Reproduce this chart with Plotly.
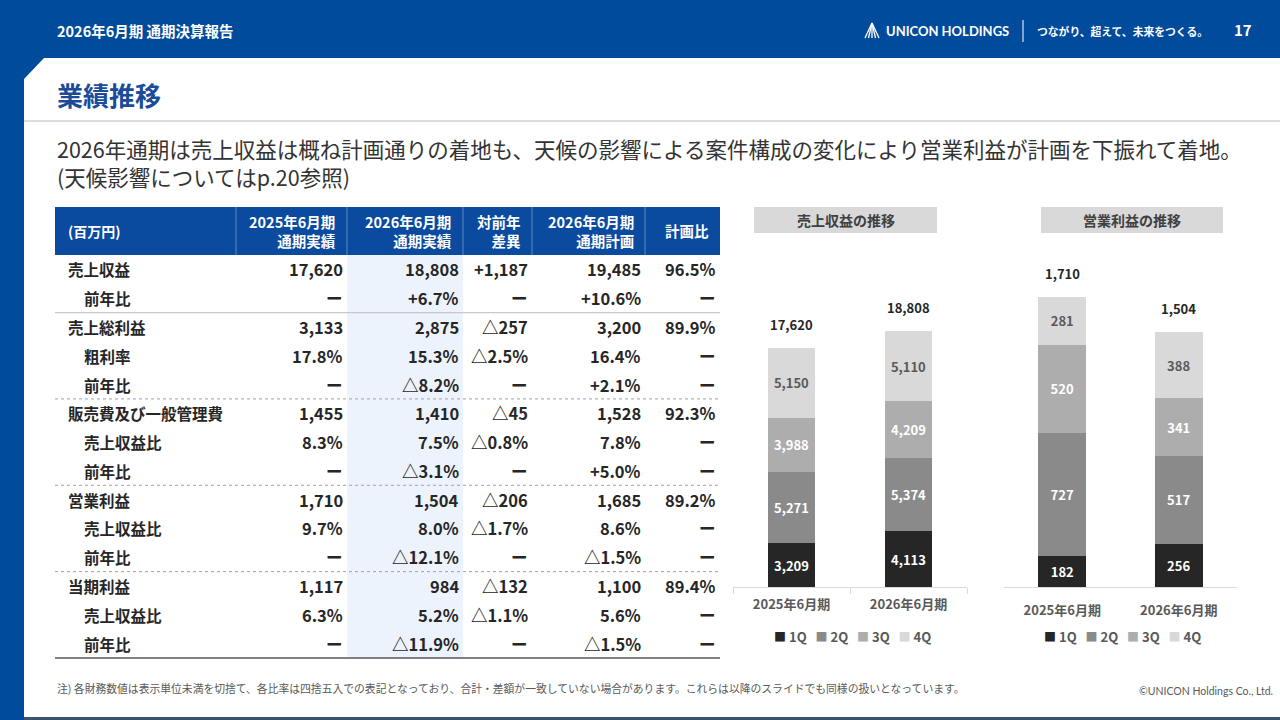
import plotly.graph_objects as go

# ── data ──────────────────────────────────────────────────────────────────────
periods = ["2025年6月期", "2026年6月期"]
quarters = ["1Q", "2Q", "3Q", "4Q"]

sales_1q = [3209, 4113]
sales_2q = [5271, 5374]
sales_3q = [3988, 4209]
sales_4q = [5150, 5110]
sales_total = [17620, 18808]

op_1q = [182, 256]
op_2q = [727, 517]
op_3q = [520, 341]
op_4q = [281, 388]
op_total = [1710, 1504]

table_header = ["(百万円)", "2025年6月期<br>通期実績", "2026年6月期<br>通期実績",
                "対前年<br>差異", "2026年6月期<br>通期計画", "計画比"]

main_items = ["売上収益", "売上総利益", "販売費及び一般管理費", "営業利益", "当期利益"]
sub_items = [["前年比"], ["粗利率", "前年比"], ["売上収益比", "前年比"],
             ["売上収益比", "前年比"], ["売上収益比", "前年比"]]

fy25_actual = ["17,620", "ー", "3,133", "17.8%", "ー", "1,455", "8.3%", "ー",
               "1,710", "9.7%", "ー", "1,117", "6.3%", "ー"]
fy26_actual = ["18,808", "+6.7%", "2,875", "15.3%", "△8.2%", "1,410", "7.5%", "△3.1%",
               "1,504", "8.0%", "△12.1%", "984", "5.2%", "△11.9%"]
yoy_diff = ["+1,187", "ー", "△257", "△2.5%", "ー", "△45", "△0.8%", "ー",
            "△206", "△1.7%", "ー", "△132", "△1.1%", "ー"]
fy26_plan = ["19,485", "+10.6%", "3,200", "16.4%", "+2.1%", "1,528", "7.8%", "+5.0%",
             "1,685", "8.6%", "△1.5%", "1,100", "5.6%", "△1.5%"]
plan_ratio = ["96.5%", "ー", "89.9%", "ー", "ー", "92.3%", "ー", "ー",
              "89.2%", "ー", "ー", "89.4%", "ー", "ー"]

headline = ("2026年通期は売上収益は概ね計画通りの着地も、天候の影響による案件構成の変化により"
            "営業利益が計画を下振れて着地。<br>(天候影響についてはp.20参照)")
footnote = ("注) 各財務数値は表示単位未満を切捨て、各比率は四捨五入での表記となっており、"
            "合計・差額が一致していない場合があります。これらは以降のスライドでも同様の扱いとなっています。")

# ── page geometry ─────────────────────────────────────────────────────────────
W, H = 1280, 720
BLUE = "#004b9b"
FONT = "Noto Sans CJK JP"
DARK = "#262626"
GREY_TXT = "#595959"
q_colors = ["#262626", "#8a8a8a", "#adadad", "#d9d9d9"]
q_text = ["white", "white", "white", "#595959"]


def X(px):
    return px / W


def Y(py):
    return 1 - py / H


shapes = []
ann = []


def rect(x0, y0, x1, y1, color, layer="below"):
    shapes.append(dict(type="rect", xref="paper", yref="paper", x0=X(x0), x1=X(x1),
                       y0=Y(y1), y1=Y(y0), fillcolor=color, line_width=0, layer=layer))


def hline(x0, x1, y, color, width=1, dash="solid"):
    shapes.append(dict(type="line", xref="paper", yref="paper", x0=X(x0), x1=X(x1),
                       y0=Y(y), y1=Y(y), line=dict(color=color, width=width, dash=dash)))


def text(x, y, s, size, color=DARK, anchor="left", bold=True, family=FONT, valign="middle"):
    ann.append(dict(xref="paper", yref="paper", x=X(x), y=Y(y), text=s, showarrow=False,
                    xanchor=anchor, yanchor=valign, align=anchor,
                    font=dict(family=family, size=size, color=color,
                              weight=700 if bold else 400)))


# header band, left strip, chamfered corner, bottom edge
rect(0, 0, W, 58, BLUE)
rect(0, 0, 24, H, BLUE)
shapes.append(dict(type="path", xref="paper", yref="paper",
                   path=f"M {X(24)},{Y(58)} L {X(44)},{Y(58)} L {X(24)},{Y(79)} Z",
                   fillcolor=BLUE, line_width=0))
rect(24, 717, W, H, "#3a5470")
hline(24, W, 121, "#d0d0d0", 1.5)

text(55, 31, "2026年6月期 通期決算報告", 14.5, "white")
# logo mark
for dx in (-7, -3.5, 0, 3.5, 7):
    shapes.append(dict(type="line", xref="paper", yref="paper", x0=X(872), y0=Y(23),
                       x1=X(872 + dx), y1=Y(38), line=dict(color="white", width=1.3)))
text(884, 31, "UNICON HOLDINGS", 13, "white", family="Lato")
shapes.append(dict(type="line", xref="paper", yref="paper", x0=X(1023), x1=X(1023),
                   y0=Y(20), y1=Y(42), line=dict(color="white", width=1)))
text(1035, 31, "つながり、超えて、未来をつくる。", 10.8, "white")
text(1243, 30, "17", 15, "white", anchor="center")

text(55, 95, "業績推移", 26, "#1a4c9a")
ann.append(dict(xref="paper", yref="paper", x=X(55), y=Y(163), text=headline, showarrow=False,
                xanchor="left", yanchor="middle", align="left",
                font=dict(family=FONT, size=21.5, color="#333333")))
text(55, 688, footnote, 10.8, GREY_TXT, bold=False)
text(1275, 691, "©UNICON Holdings Co., Ltd.", 10.5, GREY_TXT, anchor="right", bold=False,
     family="Lato")

# ── table ─────────────────────────────────────────────────────────────────────
col_edges = [55, 236, 347, 463, 532, 645, 720]
head_top, head_bot, tab_bot = 207, 255, 658

row_labels, row_sub = [], []
for m, subs in zip(main_items, sub_items):
    row_labels.append(m)
    row_sub.append(False)
    for s in subs:
        row_labels.append(s)
        row_sub.append(True)
n_rows = len(row_labels)
row_h = (tab_bot - head_bot) / n_rows

rect(col_edges[0], head_top, col_edges[-1], head_bot, "#0a4a9f")
rect(col_edges[2], head_bot, col_edges[3], tab_bot, "#edf3fc")
for xe in col_edges[1:-1]:
    shapes.append(dict(type="line", xref="paper", yref="paper", x0=X(xe), x1=X(xe),
                       y0=Y(head_top), y1=Y(head_bot),
                       line=dict(color="rgba(255,255,255,0.35)", width=1)))

text(66, 231, table_header[0], 14, "white")
for j, h in enumerate(table_header[1:], start=1):
    text(col_edges[j + 1] - 9, 231, h, 14.5, "white", anchor="right")

columns = [fy25_actual, fy26_actual, yoy_diff, fy26_plan, plan_ratio]
for i in range(n_rows):
    yc = head_bot + row_h * (i + 0.5)
    text(82 if row_sub[i] else 66, yc, row_labels[i], 15.5)
    for j, col in enumerate(columns):
        text(col_edges[j + 2] - 2, yc, col[i], 16.5, anchor="right")

# group separators
r = 0
for g, subs in enumerate(sub_items[:-1]):
    r += 1 + len(subs)
    ys = head_bot + row_h * r
    if g == 0:
        hline(col_edges[0], col_edges[-1], ys, "#c8c8c8", 1.2)
    else:
        hline(col_edges[0], col_edges[-1], ys, "#a0a0a0", 1, "dot")
hline(col_edges[0], col_edges[-1], tab_bot, "#808080", 2.2)

# ── stacked bar charts ────────────────────────────────────────────────────────
rect(754, 207, 937, 233, "#d9d9d9")
rect(1041, 207, 1223, 233, "#d9d9d9")
text(845.5, 220, "売上収益の推移", 14, "#404040", anchor="center")
text(1132, 220, "営業利益の推移", 14, "#404040", anchor="center")

fig = go.Figure()
charts = [("x", "y", [sales_1q, sales_2q, sales_3q, sales_4q], sales_total),
          ("x2", "y2", [op_1q, op_2q, op_3q, op_4q], op_total)]
for xa, ya, series, totals in charts:
    for q, vals, c, tc in zip(quarters, series, q_colors, q_text):
        fig.add_trace(go.Bar(
            x=periods, y=vals, name=q, xaxis=xa, yaxis=ya,
            marker=dict(color=c, line=dict(width=0)),
            width=0.41,
            texttemplate="%{y:,}", textposition="inside", insidetextanchor="middle",
            textangle=0, constraintext="none",
            textfont=dict(family=FONT, size=13, color=tc, weight=700),
            showlegend=False,
        ))
    for p, t in zip(periods, totals):
        ann.append(dict(xref=xa, yref=ya, x=p, y=t, text=f"{t:,}", showarrow=False,
                        yanchor="bottom", yshift=12,
                        font=dict(family=FONT, size=13, color=DARK, weight=700)))

# legends under each chart
for cx in (852, 1122):
    items = [f"<span style='color:{c};font-size:12px'>■</span>&nbsp;{q}"
             for q, c in zip(quarters, q_colors)]
    text(cx, 636, "&nbsp;&nbsp;&nbsp;".join(items), 13, GREY_TXT, anchor="center")

plot_bottom, plot_top = 587, 260
scale_px = plot_bottom - plot_top
ydom = [Y(plot_bottom), Y(plot_top)]
axis_common = dict(showgrid=False, zeroline=False, fixedrange=True)

fig.update_layout(
    width=W, height=H, margin=dict(l=0, r=0, t=0, b=0),
    paper_bgcolor="white", plot_bgcolor="rgba(0,0,0,0)",
    font=dict(family=FONT, color=DARK),
    barmode="stack", showlegend=False,
    shapes=shapes, annotations=ann,
    xaxis=dict(domain=[X(733), X(967)], showline=True, linecolor="#d9d9d9", linewidth=1,
               ticks="outside", tickson="boundaries", ticklen=6, tickcolor="#d9d9d9",
               tickfont=dict(size=13, color=GREY_TXT, weight=700), ticklabelstandoff=5,
               **axis_common),
    yaxis=dict(domain=ydom, range=[0, 73.6 * scale_px], visible=False, **axis_common),
    xaxis2=dict(domain=[X(1004), X(1237)], anchor="y2", showline=True, linecolor="#d9d9d9",
                linewidth=1, ticks="outside", ticklen=6, tickcolor="rgba(0,0,0,0)",
                tickfont=dict(size=13, color=GREY_TXT, weight=700), ticklabelstandoff=5,
                **axis_common),
    yaxis2=dict(domain=ydom, range=[0, 5.897 * scale_px], anchor="x2", visible=False,
                **axis_common),
)

fig.write_html("out.html", config={"displayModeBar": False},
               post_script="document.body.style.margin='0';")
